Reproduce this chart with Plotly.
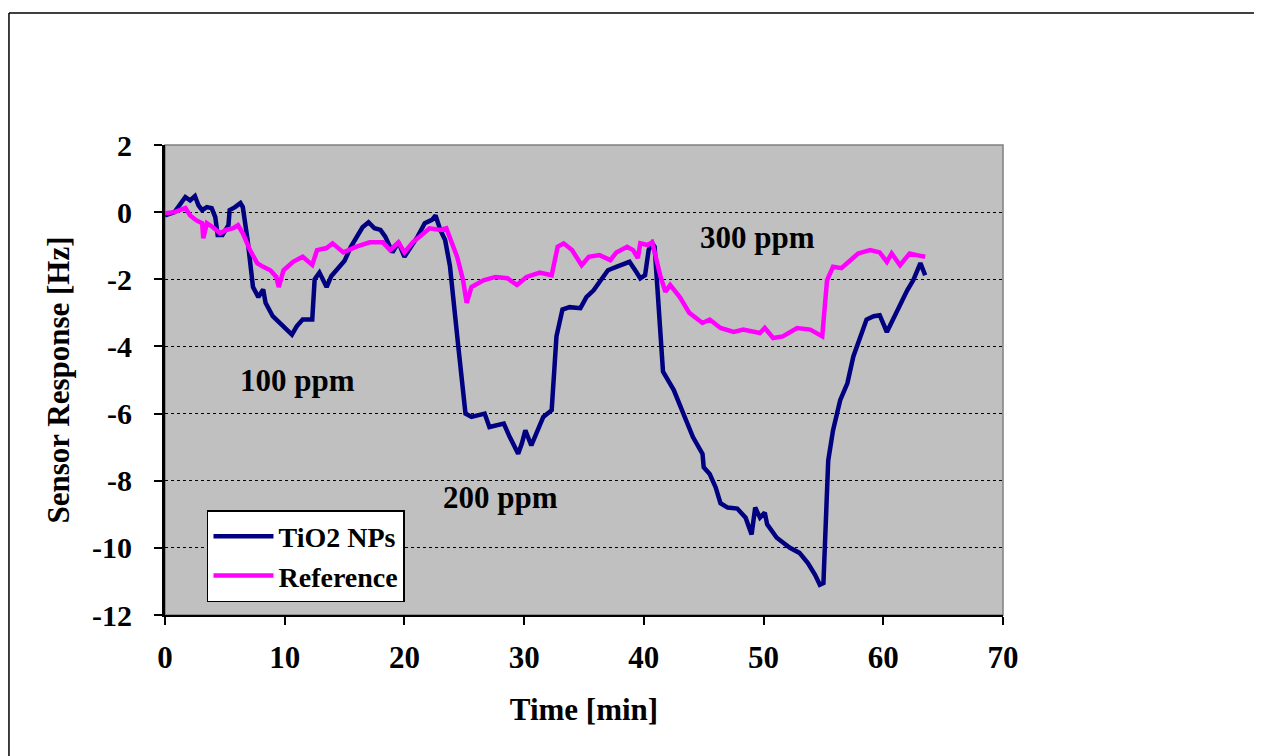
import plotly.graph_objects as go

# TiO2 NPs response (time in min, response in Hz)
tio2_t = [0, 0.8, 1.7, 2.1, 2.5, 2.8, 3.1, 3.5, 3.9, 4.2, 4.4, 4.8, 5.3, 5.4, 5.85, 6.3, 6.5, 6.9,
          7.35, 7.8, 8.2, 8.4, 9.0, 9.9, 10.6, 11.0, 11.5, 12.3, 12.5, 12.9, 13.5, 13.9, 14.4, 15.0,
          15.5, 16.0, 16.5, 17.0, 17.5, 18.0, 18.4, 19.0, 19.5, 20.0, 20.6, 21.1, 21.7, 22.3, 22.6,
          23.0, 23.4, 23.8, 24.5, 25.1, 25.6, 26.2, 26.7, 27.1, 27.7, 28.3, 28.8, 29.5, 29.8, 30.1,
          30.6, 31.0, 31.6, 32.3, 32.7, 33.2, 33.8, 34.7, 35.2, 35.8, 36.3, 37.0, 37.7, 38.3, 38.8,
          39.4, 39.7, 40.1, 40.4, 40.7, 40.9, 41.6, 42.5, 43.3, 44.1, 44.9, 45.0, 45.5, 46.0, 46.4,
          47.0, 47.8, 48.5, 49.0, 49.3, 49.7, 50.1, 50.3, 51.1, 52.2, 53.0, 53.7, 54.3, 54.7, 55.0,
          55.4, 55.8, 56.4, 57.0, 57.5, 58.1, 58.6, 59.2, 59.7, 60.3, 60.8, 61.4, 62.0, 62.5, 63.1, 63.5]
tio2_v = [-0.1, 0.0, 0.45, 0.35, 0.48, 0.2, 0.06, 0.15, 0.12, -0.15, -0.68, -0.68, -0.39, 0.06, 0.15,
          0.27, 0.15, -0.83, -2.23, -2.53, -2.3, -2.7, -3.1, -3.4, -3.65, -3.4, -3.2, -3.2, -2.0, -1.8,
          -2.23, -1.9, -1.7, -1.45, -1.05, -0.73, -0.45, -0.3, -0.48, -0.53, -0.73, -1.2, -0.9, -1.33,
          -1.03, -0.73, -0.33, -0.23, -0.1, -0.53, -0.83, -1.6, -4.0, -6.0, -6.1, -6.05, -6.0, -6.4,
          -6.35, -6.3, -6.7, -7.2, -6.9, -6.5, -6.95, -6.6, -6.1, -5.9, -3.7, -2.9, -2.83, -2.86, -2.53,
          -2.33, -2.1, -1.73, -1.63, -1.53, -1.48, -1.8, -1.97, -1.88, -1.13, -0.93, -1.03, -4.75, -5.3,
          -6.0, -6.7, -7.2, -7.6, -7.8, -8.2, -8.67, -8.8, -8.83, -9.1, -9.6, -8.8, -9.1, -8.95, -9.3,
          -9.7, -10.0, -10.15, -10.45, -10.8, -11.1, -11.05, -7.4, -6.5, -5.6, -5.1, -4.3, -3.7, -3.2,
          -3.1, -3.07, -3.57, -3.2, -2.83, -2.33, -2.03, -1.52, -1.88]

# Reference sensor response
ref_t = [0, 0.8, 1.7, 2.1, 2.6, 3.1, 3.2, 3.5, 4.0, 4.6, 5.1, 5.7, 6.1, 6.5, 7.1, 7.7, 8.2, 8.8, 9.3,
         9.5, 9.9, 10.7, 11.5, 12.3, 12.7, 13.5, 14.0, 14.9, 16.0, 17.1, 18.2, 18.8, 19.5, 20.0, 20.7,
         21.6, 22.1, 23.0, 23.5, 24.4, 24.9, 25.2, 25.6, 26.6, 27.6, 28.6, 29.4, 30.2, 31.3, 32.3, 32.8,
         33.3, 34.0, 34.8, 35.4, 36.3, 37.2, 37.7, 38.6, 39.1, 39.5, 39.7, 40.3, 40.7, 41.4, 41.8, 42.2,
         43.0, 43.8, 44.9, 45.5, 46.4, 47.5, 48.3, 49.7, 50.1, 50.8, 51.6, 52.8, 53.9, 54.9, 55.3, 55.8,
         56.5, 57.1, 57.9, 58.9, 59.7, 60.3, 60.7, 61.4, 62.2, 62.8, 63.5]
ref_v = [-0.03, 0.0, 0.12, -0.1, -0.24, -0.33, -0.78, -0.33, -0.45, -0.63, -0.53, -0.48, -0.39, -0.63,
         -1.13, -1.52, -1.63, -1.73, -1.93, -2.23, -1.73, -1.48, -1.33, -1.57, -1.13, -1.07, -0.93, -1.2,
         -1.03, -0.9, -0.9, -1.13, -0.9, -1.2, -0.9, -0.63, -0.48, -0.53, -0.48, -1.33, -2.03, -2.7,
         -2.23, -2.03, -1.93, -1.97, -2.17, -1.93, -1.8, -1.88, -1.03, -0.93, -1.13, -1.58, -1.33, -1.28,
         -1.43, -1.2, -1.03, -1.13, -1.37, -0.93, -0.98, -0.9, -1.93, -2.37, -2.17, -2.53, -3.0, -3.3,
         -3.2, -3.45, -3.57, -3.5, -3.6, -3.45, -3.75, -3.7, -3.45, -3.5, -3.7, -2.03, -1.63, -1.67,
         -1.48, -1.23, -1.13, -1.2, -1.48, -1.23, -1.58, -1.23, -1.28, -1.33]

x_ticks = [0, 10, 20, 30, 40, 50, 60, 70]
y_ticks = [-12, -10, -8, -6, -4, -2, 0, 2]

labels = ["100 ppm", "200 ppm", "300 ppm"]
label_t = [11.1, 28.0, 49.5]
label_v = [-5.0, -8.5, -0.75]

FONT = "Liberation Serif"

fig = go.Figure()
fig.add_trace(go.Scatter(x=tio2_t, y=tio2_v, mode="lines", name="<b>TiO2 NPs</b>",
                         line=dict(color="#000080", width=4.5)))
fig.add_trace(go.Scatter(x=ref_t, y=ref_v, mode="lines", name="<b>Reference</b>",
                         line=dict(color="#FF00FF", width=4.5)))

for txt, t, v in zip(labels, label_t, label_v):
    fig.add_annotation(x=t, y=v, text="<b>%s</b>" % txt, showarrow=False,
                       font=dict(family=FONT, size=31, color="black"))

# outer frame (top and left edges)
fig.add_shape(type="line", xref="paper", yref="paper", x0=-0.1862, x1=1.33, y0=1.2809, y1=1.2809,
              line=dict(color="black", width=1.5))
fig.add_shape(type="line", xref="paper", yref="paper", x0=-0.1862, x1=-0.1862, y0=-0.33, y1=1.2809,
              line=dict(color="black", width=1.5))
# plot area border (top/right gray)
fig.add_shape(type="rect", xref="paper", yref="paper", x0=0, x1=1, y0=0, y1=1,
              line=dict(color="#808080", width=1.5), layer="below")

fig.update_layout(
    width=1262, height=756,
    margin=dict(l=157, r=267, t=137, b=149),
    paper_bgcolor="white", plot_bgcolor="#C0C0C0",
    font=dict(family=FONT, color="black"),
    showlegend=True,
    legend=dict(x=0.0501, y=0.2234, xanchor="left", yanchor="top",
                bgcolor="white", bordercolor="black", borderwidth=1.5,
                font=dict(family=FONT, size=28, color="black"),
                itemwidth=60, tracegroupgap=0),
    xaxis=dict(range=[0, 70], tickvals=x_ticks, ticktext=["<b>%d</b>" % v for v in x_ticks],
               showgrid=False, zeroline=False, showline=True, linecolor="black", linewidth=2,
               ticks="outside", ticklen=8, tickwidth=1.5, tickcolor="black",
               ticklabelstandoff=6,
               tickfont=dict(family=FONT, size=31),
               title=dict(text="<b>Time [min]</b>", font=dict(family=FONT, size=31), standoff=24)),
    yaxis=dict(range=[-12, 2], tickvals=y_ticks, ticktext=["<b>%d</b>" % v for v in y_ticks],
               showgrid=True, gridcolor="black", griddash="dot", gridwidth=1,
               zeroline=False, showline=True, linecolor="black", linewidth=3,
               ticks="outside", ticklen=8, tickwidth=2, tickcolor="black",
               ticklabelstandoff=16,
               tickfont=dict(family=FONT, size=30),
               title=dict(text="<b>Sensor Response [Hz]</b>", font=dict(family=FONT, size=31), standoff=14)),
)

fig.write_html("out.html")
